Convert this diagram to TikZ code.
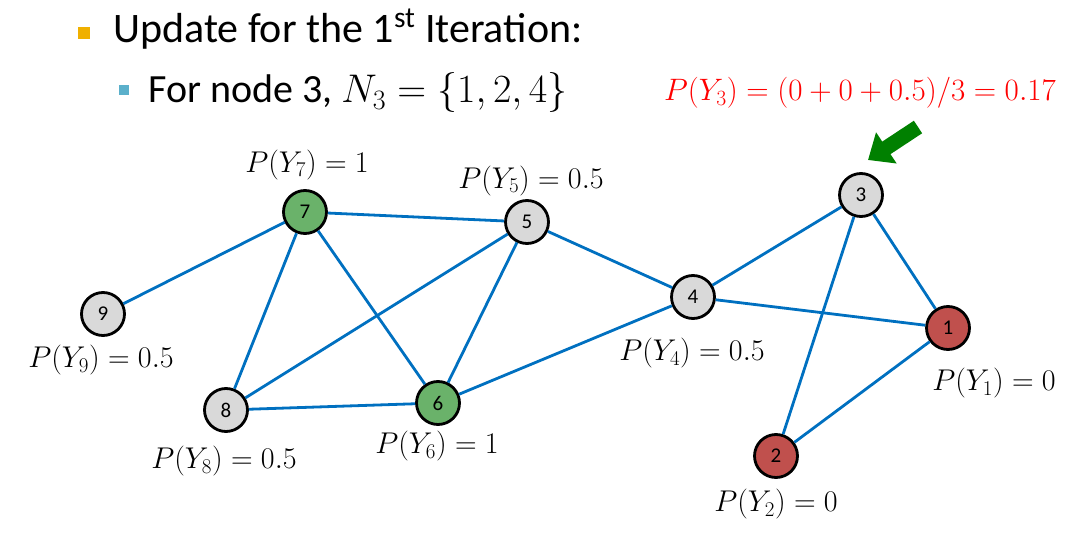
\RequirePackage{fix-cm}
\documentclass[tikz,border=0pt]{standalone}
\usepackage{amsmath}
\usepackage{fontspec}
\setmainfont{Carlito}
\usepackage{tikz}
\usetikzlibrary{positioning,arrows.meta,calc}

\definecolor{edgeblue}{RGB}{0,112,192}
\definecolor{nodegray}{RGB}{217,217,217}
\definecolor{nodegreen}{RGB}{106,178,106}
\definecolor{nodered}{RGB}{192,80,77}
\definecolor{bulletorange}{RGB}{240,176,0}
\definecolor{bulletblue}{RGB}{91,176,203}
\definecolor{arrowgreen}{RGB}{0,128,0}

\begin{document}
\begin{tikzpicture}[x=1pt, y=-1pt,
  vertex/.style={circle, draw=black, line width=2.8pt, minimum size=43pt, inner sep=0pt, font=\fontsize{21}{21}\selectfont},
  link/.style={edgeblue, line width=2.8pt},
  prob/.style={font=\fontsize{30}{32}\selectfont, inner sep=0pt}]

\useasboundingbox (0,0) rectangle (1087,559);

% Bullets
\fill[bulletorange] (78,27) rectangle (90,39);
\fill[bulletblue] (119,85) rectangle (129,95);
\node[anchor=base west, inner sep=0pt, font=\fontsize{42}{44}\selectfont] (line1) at (113,43) {Update for the 1\textsuperscript{st} Iteration:};
\node[anchor=base west, inner sep=0pt, font=\fontsize{40}{44}\selectfont] (line2) at (148,103) {For node 3, $N_3=\{1,2,4\}$};

% Vertices
\node[vertex, fill=nodegreen] (v7) at (305,212) {7};
\node[vertex, fill=nodegray]  (v5) at (527,222) {5};
\node[vertex, fill=nodegray]  (v9) at (103,314) {9};
\node[vertex, fill=nodegray]  (v8) at (226,410) {8};
\node[vertex, fill=nodegreen] (v6) at (438,403) {6};
\node[vertex, fill=nodegray]  (v4) at (693,297) {4};
\node[vertex, fill=nodegray]  (v3) at (861,195) {3};
\node[vertex, fill=nodered]   (v1) at (948,328) {1};
\node[vertex, fill=nodered]   (v2) at (776,456) {2};

% Edges
\foreach \a/\b in {v9/v7, v7/v5, v7/v8, v7/v6, v5/v8, v5/v6, v5/v4, v8/v6, v6/v4, v4/v3, v4/v1, v3/v1, v3/v2, v2/v1}
  \draw[link] (\a) -- (\b);

% Probabilities
\node[prob] (p7) at (307,165) {$P(Y_7)=1$};
\node[prob] (p5) at (531,181) {$P(Y_5)=0.5$};
\node[prob] (p9) at (101,360) {$P(Y_9)=0.5$};
\node[prob] (p8) at (224,461) {$P(Y_8)=0.5$};
\node[prob] (p6) at (437,446) {$P(Y_6)=1$};
\node[prob] (p4) at (692,353) {$P(Y_4)=0.5$};
\node[prob] (p1) at (994,383) {$P(Y_1)=0$};
\node[prob] (p2) at (776,504) {$P(Y_2)=0$};
\node[prob, text=red, font=\fontsize{31}{32}\selectfont] (p3) at (860,93) {$P(Y_3)=(0+0+0.5)/3=0.17$};

% Update arrow
\coordinate (arrowtail) at (918,127);
\coordinate (arrowtip) at (868,160);
\draw[arrowgreen, line width=15pt, -{Triangle[width=36pt,length=22pt]}] (arrowtail) -- (arrowtip);

\end{tikzpicture}
\end{document}
